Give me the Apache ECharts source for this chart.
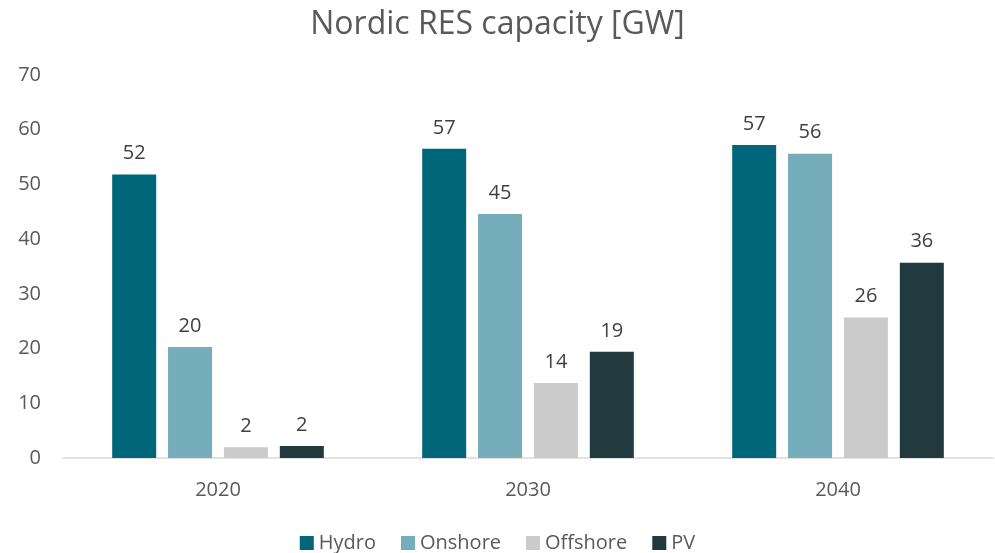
<!DOCTYPE html>
<html>
<head>
<meta charset="utf-8">
<script src="https://cdn.jsdelivr.net/npm/echarts@6/dist/echarts.min.js"></script>
<style>
  html, body { margin: 0; padding: 0; background: #fff; }
  #chart { width: 995px; height: 553px; }
</style>
</head>
<body>
<div id="chart"></div>
<script>
// 数据
const years = ['2020', '2030', '2040'];
const hydro = [51.8, 56.5, 57.2];
const onshore = [20.3, 44.6, 55.6];
const offshore = [1.95, 13.7, 25.7];
const pv = [2.2, 19.4, 35.7];
const yTicks = [0, 10, 20, 30, 40, 50, 60, 70];

document.addEventListener('DOMContentLoaded', function() {
    const chartDom = document.getElementById('chart');
    const myChart = echarts.init(chartDom);
    const font = '"Open Sans", "Liberation Sans", sans-serif';

    function makeSeries(name, data, color) {
        return {
            name: name,
            type: 'bar',
            data: data,
            barWidth: 44,
            barGap: '27%',
            itemStyle: { color: color },
            label: {
                show: true,
                position: 'top',
                distance: 11,
                color: '#404040',
                fontSize: 20,
                fontFamily: font,
                formatter: p => Math.round(p.value)
            }
        };
    }

    const option = {
        backgroundColor: '#fff',
        animation: false,
        title: {
            text: 'Nordic RES capacity [GW]',
            left: 'center',
            top: 4,
            textStyle: { color: '#595959', fontSize: 32, fontWeight: 'normal', fontFamily: font }
        },
        legend: {
            bottom: -5,
            left: 'center',
            itemWidth: 14,
            itemHeight: 14,
            itemGap: 25,
            icon: 'rect',
            textStyle: { color: '#595959', fontSize: 20, fontFamily: font }
        },
        grid: { left: 63, right: 2, top: 75, bottom: 95 },
        xAxis: {
            type: 'category',
            data: years,
            axisLine: { lineStyle: { color: '#d9d9d9', width: 1.5 } },
            axisTick: { show: false },
            axisLabel: { color: '#595959', fontSize: 20, fontFamily: font, margin: 22 }
        },
        yAxis: {
            type: 'value',
            min: yTicks[0],
            max: yTicks[yTicks.length - 1],
            interval: 10,
            splitLine: { show: false },
            axisLine: { show: false },
            axisTick: { show: false },
            axisLabel: { color: '#595959', fontSize: 20, fontFamily: font, margin: 22 }
        },
        series: [
            makeSeries('Hydro', hydro, '#00677a'),
            makeSeries('Onshore', onshore, '#76adba'),
            makeSeries('Offshore', offshore, '#cbcbcb'),
            makeSeries('PV', pv, '#213a40')
        ]
    };
    myChart.setOption(option);
});
</script>
</body>
</html>
